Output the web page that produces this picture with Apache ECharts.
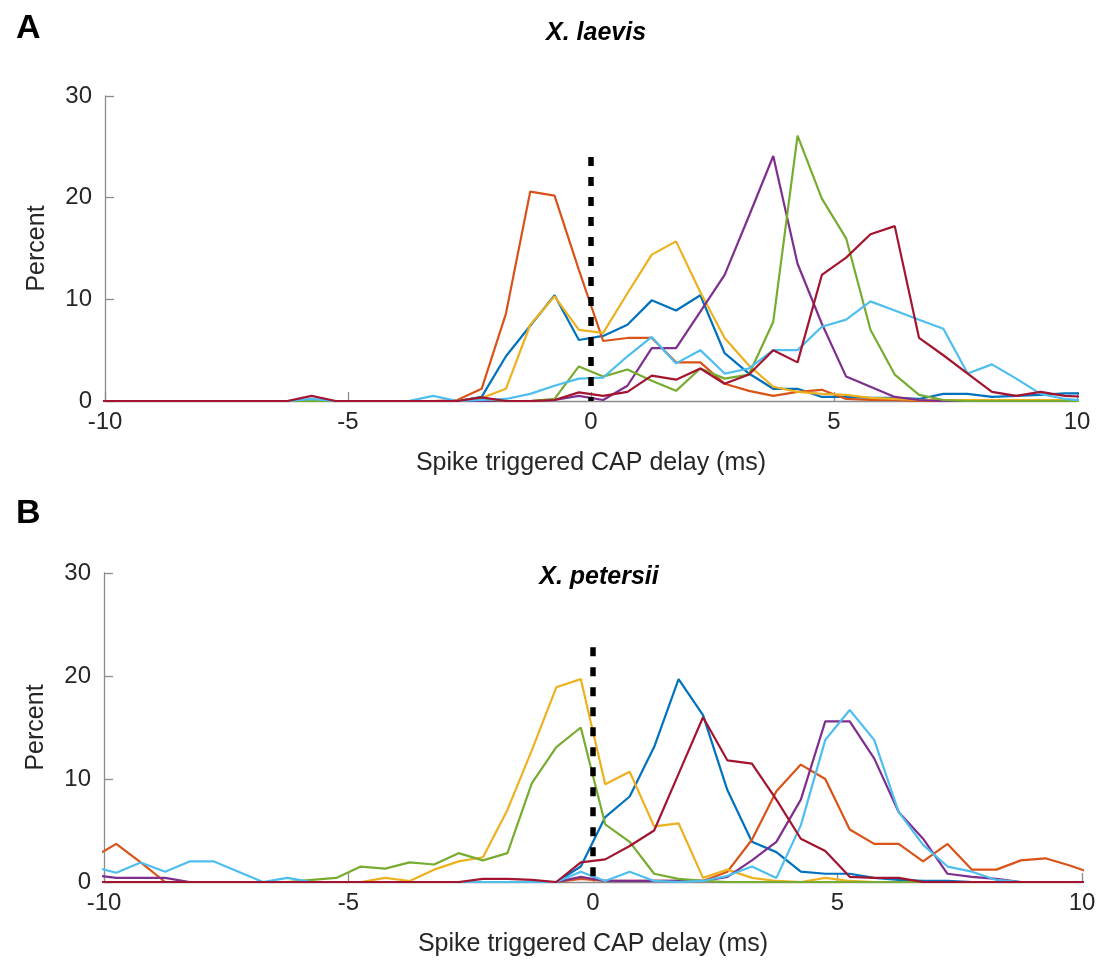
<!DOCTYPE html>
<html>
<head>
<meta charset="utf-8">
<title>Spike triggered CAP delay</title>
<script src="https://cdn.jsdelivr.net/npm/echarts@6/dist/echarts.min.js"></script>
<style>
  html, body { margin: 0; padding: 0; background: #fff; }
  #chart { width: 1107px; height: 964px; }
</style>
</head>
<body>
<div id="chart"></div>
<script>
// bin centres (ms), 0.5 ms bins; outer bins get clipped at +-10
var delays = [-10.25, -9.75, -9.25, -8.75, -8.25, -7.75, -7.25, -6.75, -6.25, -5.75,
  -5.25, -4.75, -4.25, -3.75, -3.25, -2.75, -2.25, -1.75, -1.25, -0.75,
  -0.25, 0.25, 0.75, 1.25, 1.75, 2.25, 2.75, 3.25, 3.75, 4.25,
  4.75, 5.25, 5.75, 6.25, 6.75, 7.25, 7.75, 8.25, 8.75, 9.25,
  9.75, 10.25];

var xTicks = [-10, -5, 0, 5, 10];
var yTicks = [0, 10, 20, 30];
var colors = ['#0072BD', '#D95319', '#EDB120', '#7E2F8E', '#77AC30', '#4DBEEE', '#A2142F'];

// A: X. laevis (percent)
var laevisBlue   = [0,0,0,0,0,0,0,0,0,0, 0,0,0,0,0,0,0.4,4.4,7.4,10.4, 6.0,6.4,7.5,9.9,8.9,10.4,4.7,2.7,1.2,1.2, 0.4,0.4,0.3,0.3,0.2,0.7,0.7,0.4,0.5,0.6, 0.75,0.75];
var laevisOrange = [0,0,0,0,0,0,0,0,0,0, 0,0,0,0,0,0.1,1.2,8.6,20.6,20.2, 12.9,5.9,6.2,6.2,3.8,3.8,1.7,1.0,0.5,0.9, 1.1,0.2,0.1,0.1,0,0,0,0,0,0, 0,0];
var laevisYellow = [0,0,0,0,0,0,0,0,0,0, 0,0,0,0,0,0,0.3,1.2,7.5,10.3, 7.0,6.7,10.6,14.4,15.7,10.7,6.2,3.5,1.4,0.9, 0.7,0.6,0.3,0.2,0.1,0.1,0.1,0.1,0.1,0.1, 0.1,0.1];
var laevisPurple = [0,0,0,0,0,0,0,0,0,0, 0,0,0,0,0,0,0,0,0,0.1, 0.5,0.1,1.5,5.2,5.2,8.8,12.4,18.2,24.1,13.5, 7.6,2.4,1.4,0.4,0.1,0,0,0,0,0, 0,0];
var laevisGreen  = [0,0,0,0,0,0,0,0,0,0, 0,0,0,0,0,0,0.2,0,0,0.2, 3.4,2.4,3.1,2.0,1.0,3.2,2.2,2.6,7.8,26.1, 19.9,16.0,7.0,2.6,0.6,0.1,0,0,0,0, 0,0];
var laevisCyan   = [0,0,0,0,0,0,0,0,0,0.2, 0,0,0,0,0.5,0,0.1,0.2,0.7,1.5, 2.2,2.3,4.4,6.3,3.7,5.0,2.7,3.2,5.0,5.0, 7.3,8.0,9.8,8.9,8.0,7.1,2.7,3.6,2.2,0.7, 0.2,0];
var laevisRed    = [0,0,0,0,0,0,0,0,0,0.5, 0,0,0,0,0,0,0.35,0,0,0.1, 0.85,0.5,0.9,2.5,2.1,3.2,1.7,2.6,5.0,3.8, 12.4,14.1,16.4,17.2,6.2,4.5,2.7,0.9,0.5,0.9, 0.5,0.4];

// B: X. petersii (percent)
var petersiiBlue   = [0,0,0,0,0,0,0,0,0,0, 0,0,0,0,0,0,0,0,0,0, 1.5,6.3,8.3,13.1,19.7,16.2,8.9,3.9,2.9,1.0, 0.8,0.8,0.4,0.2,0.1,0.1,0,0,0,0, 0,0];
var petersiiOrange = [2.3,3.7,1.9,0,0,0,0,0,0,0, 0,0,0,0,0,0,0,0,0,0, 0.3,0.1,0.1,0.1,0.1,0.1,1.0,4.1,8.8,11.4, 10.0,5.1,3.7,3.7,2.0,3.7,1.2,1.2,2.1,2.3, 1.6,0.8];
var petersiiYellow = [0,0,0,0,0,0,0,0,0,0, 0,0,0.4,0.1,1.2,2.0,2.4,7.0,12.8,18.9, 19.7,9.5,10.7,5.4,5.7,0.4,1.2,0.4,0.1,0, 0.4,0.1,0,0,0,0,0,0,0,0, 0,0];
var petersiiPurple = [0.7,0.4,0.4,0.4,0,0,0,0,0,0, 0,0,0,0,0,0,0,0,0,0, 0.5,0.1,0.1,0.1,0.1,0.1,0.5,2.1,3.9,8.0, 15.6,15.6,12.0,6.8,4.2,0.8,0.5,0.3,0,0, 0,0];
var petersiiGreen  = [0,0,0,0,0,0,0,0,0,0.2, 0.4,1.5,1.3,1.9,1.7,2.8,2.1,2.8,9.6,13.1, 15.0,5.6,3.9,0.8,0.3,0.1,0,0,0,0, 0,0,0,0,0,0,0,0,0,0, 0,0];
var petersiiCyan   = [1.5,0.9,1.9,1.0,2.0,2.0,1.0,0,0.4,0, 0,0,0,0,0,0,0,0,0,0, 1.0,0.1,1.0,0.1,0,0.1,0.6,1.5,0.4,5.5, 13.8,16.7,13.8,6.8,3.6,1.5,1.0,0.2,0,0, 0,0];
var petersiiRed    = [0,0,0,0,0,0,0,0,0,0, 0,0,0,0,0,0,0.3,0.3,0.2,0, 1.9,2.2,3.5,5.0,10.5,16.0,11.8,11.5,8.0,4.2, 3.0,0.5,0.4,0.4,0,0,0,0,0,0, 0,0];

// dashed marker at zero delay: [top, bottom] for each panel
var zeroLineA = [24, 0];
var zeroLineB = [22.8, 0];

var laevisSets = [laevisBlue, laevisOrange, laevisYellow, laevisPurple, laevisGreen, laevisCyan, laevisRed];
var petersiiSets = [petersiiBlue, petersiiOrange, petersiiYellow, petersiiPurple, petersiiGreen, petersiiCyan, petersiiRed];

var FONT = '"Liberation Sans", Arial, Helvetica, sans-serif';
var AXIS_GREY = '#8c8c8c';

function pairs(vals) {
  return vals.map(function (v, i) { return [delays[i], v]; });
}

function xAxisFor(idx) {
  return {
    type: 'value', gridIndex: idx,
    min: xTicks[0], max: xTicks[xTicks.length - 1], interval: 5,
    name: 'Spike triggered CAP delay (ms)', nameLocation: 'middle', nameGap: 50,
    nameTextStyle: { fontFamily: FONT, fontSize: 25, color: '#262626' },
    axisLine: { show: true, onZero: false, lineStyle: { color: AXIS_GREY, width: 1.3 } },
    axisTick: { show: true, inside: true, length: 9, lineStyle: { color: AXIS_GREY, width: 1.3 } },
    axisLabel: { fontFamily: FONT, fontSize: 24, color: '#262626', margin: 9 },
    splitLine: { show: false }
  };
}

function yAxisFor(idx) {
  return {
    type: 'value', gridIndex: idx,
    min: yTicks[0], max: yTicks[yTicks.length - 1], interval: 10,
    name: 'Percent', nameLocation: 'middle', nameGap: 55, nameRotate: 90,
    nameTextStyle: { fontFamily: FONT, fontSize: 25, color: '#262626' },
    axisLine: { show: true, onZero: false, lineStyle: { color: AXIS_GREY, width: 1.3 } },
    axisTick: { show: true, inside: true, length: 9, lineStyle: { color: AXIS_GREY, width: 1.3 } },
    axisLabel: { fontFamily: FONT, fontSize: 24, color: '#262626', margin: 13 },
    splitLine: { show: false }
  };
}

var series = [];
[laevisSets, petersiiSets].forEach(function (sets, g) {
  sets.forEach(function (vals, k) {
    series.push({
      type: 'line', xAxisIndex: g, yAxisIndex: g,
      data: pairs(vals), symbol: 'none', clip: true,
      lineStyle: { color: colors[k], width: 2.2 },
      animation: false, z: 2 + k
    });
  });
  var zl = g === 0 ? zeroLineA : zeroLineB;
  series.push({
    type: 'line', xAxisIndex: g, yAxisIndex: g,
    data: zl.map(function (v) { return [0, v]; }), symbol: 'none',
    lineStyle: { color: '#000', width: 5.5, type: [9, 11] },
    animation: false, z: 20
  });
});

var chart = echarts.init(document.getElementById('chart'), null, { renderer: 'canvas' });
chart.setOption({
  backgroundColor: '#fff',
  animation: false,
  title: [
    { text: 'A', left: 11, top: 7, textStyle: { fontFamily: FONT, fontSize: 34, fontWeight: 'bold', color: '#000' } },
    { text: 'X. laevis', left: 591, top: 16, textAlign: 'center', textStyle: { fontFamily: FONT, fontSize: 25, fontWeight: 'bold', fontStyle: 'italic', color: '#000' } },
    { text: 'B', left: 11, top: 492, textStyle: { fontFamily: FONT, fontSize: 34, fontWeight: 'bold', color: '#000' } },
    { text: 'X. petersii', left: 594, top: 560, textAlign: 'center', textStyle: { fontFamily: FONT, fontSize: 25, fontWeight: 'bold', fontStyle: 'italic', color: '#000' } }
  ],
  grid: [
    { left: 105, top: 96, width: 972, height: 305 },
    { left: 104, top: 573, width: 978, height: 309 }
  ],
  xAxis: [xAxisFor(0), xAxisFor(1)],
  yAxis: [yAxisFor(0), yAxisFor(1)],
  series: series
});
</script>
</body>
</html>
